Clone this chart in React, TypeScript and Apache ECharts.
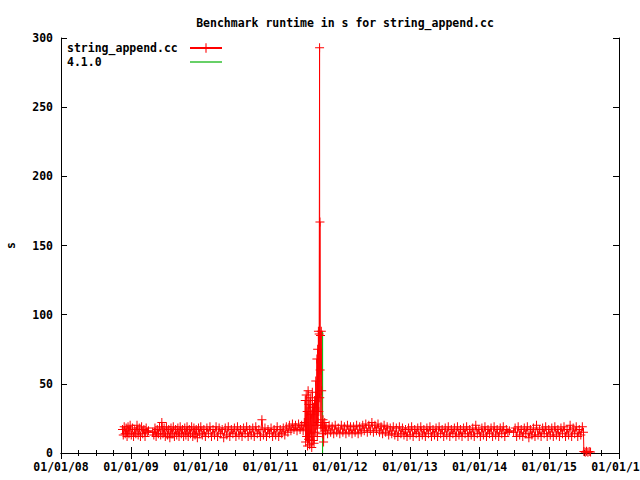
import React, { useEffect, useRef } from "react";
import * as echarts from "echarts";

const chartTitle = "Benchmark runtime in s for string_append.cc";
const seriesName = "string_append.cc";
const refName = "4.1.0";
const yTicks = { min: 0, max: 300, interval: 50 };
const xRange = ["2008-01-01", "2016-01-01"];

const runtimes: [string, number][] = [
  ["2008-11-18",17],["2008-11-22",13],["2008-11-27",19],["2008-12-02",14],["2008-12-07",18],["2008-12-12",12],["2008-12-17",19],["2008-12-22",14],["2008-12-28",20],
  ["2009-01-03",13],["2009-01-09",18],["2009-01-15",12],["2009-01-21",17],["2009-01-27",14],["2009-02-02",20],["2009-02-08",13],["2009-02-14",18],["2009-02-20",12],["2009-02-26",19],["2009-03-04",14],["2009-03-10",17],["2009-03-16",12],["2009-03-22",18],["2009-03-28",15],["2009-04-03",16],["2009-04-25",15],["2009-05-01",13],["2009-05-07",18],["2009-05-13",12],["2009-05-19",17],["2009-05-25",14],["2009-05-31",19],["2009-06-06",13],["2009-06-12",22],["2009-06-18",14],["2009-06-24",18],["2009-06-30",12],["2009-07-06",19],["2009-07-12",13],["2009-07-18",17],["2009-07-24",11],["2009-07-30",18],["2009-08-05",14],["2009-08-11",19],["2009-08-17",12],["2009-08-23",17],["2009-08-29",13],["2009-09-04",18],["2009-09-10",12],["2009-09-16",19],["2009-09-22",14],["2009-09-28",17],["2009-10-04",12],["2009-10-10",18],["2009-10-16",13],["2009-10-22",19],["2009-10-28",12],["2009-11-03",17],["2009-11-09",14],["2009-11-15",19],["2009-11-21",12],["2009-11-27",18],["2009-12-03",13],["2009-12-09",17],["2009-12-15",11],["2009-12-21",18],["2009-12-27",14],
  ["2010-01-02",19],["2010-01-10",13],["2010-01-18",17],["2010-01-26",12],["2010-02-03",18],["2010-02-11",14],["2010-02-19",19],["2010-02-27",12],["2010-03-07",17],["2010-03-15",13],["2010-03-23",19],["2010-03-31",12],["2010-04-08",18],["2010-04-16",14],["2010-04-24",17],["2010-05-02",11],["2010-05-10",18],["2010-05-18",13],["2010-05-26",19],["2010-06-03",12],["2010-06-11",17],["2010-06-19",14],["2010-06-27",18],["2010-07-05",12],["2010-07-13",19],["2010-07-21",13],["2010-07-29",17],["2010-08-06",12],["2010-08-14",18],["2010-08-22",14],["2010-08-30",19],["2010-09-07",12],["2010-09-15",17],["2010-09-23",13],["2010-10-01",18],["2010-10-09",12],["2010-10-17",19],["2010-10-25",14],["2010-11-02",17],["2010-11-10",12],["2010-11-18",24],["2010-11-26",13],["2010-12-04",18],["2010-12-12",12],["2010-12-20",17],["2010-12-28",14],
  ["2011-01-05",18],["2011-01-13",12],["2011-01-21",17],["2011-01-29",13],["2011-02-06",19],["2011-02-14",12],["2011-02-22",17],["2011-03-02",14],["2011-03-10",18],["2011-03-18",13],["2011-03-26",19],["2011-04-03",15],["2011-04-11",20],["2011-04-19",16],["2011-04-27",21],["2011-05-05",17],["2011-05-13",20],["2011-05-21",16],["2011-05-29",21],["2011-06-06",17],["2011-06-14",20],["2011-06-22",16],["2011-06-28",22],
  ["2011-07-01",20],["2011-07-03",38],["2011-07-05",8],["2011-07-08",42],["2011-07-10",12],["2011-07-13",30],["2011-07-15",5],["2011-07-18",45],["2011-07-20",10],["2011-07-23",35],["2011-07-26",6],["2011-07-29",40],["2011-08-01",14],["2011-08-03",28],["2011-08-06",4],["2011-08-09",44],["2011-08-12",9],["2011-08-15",33],["2011-08-18",7],["2011-08-21",38],["2011-08-24",15],["2011-08-27",52],["2011-08-30",20],["2011-09-02",68],["2011-09-04",12],["2011-09-06",75],["2011-09-08",22],["2011-09-10",88],["2011-09-12",30],["2011-09-14",86],["2011-09-16",293],["2011-09-17",40],["2011-09-18",167],["2011-09-19",60],["2011-09-21",85],["2011-09-23",18],["2011-09-25",88],["2011-09-27",45],["2011-09-29",20],["2011-10-01",14],["2011-10-04",24],["2011-10-07",8],["2011-10-10",18],["2011-10-13",22],["2011-10-17",16],
  ["2011-10-20",19],["2011-10-28",14],["2011-11-05",20],["2011-11-13",15],["2011-11-21",19],["2011-11-29",14],["2011-12-07",20],["2011-12-15",15],["2011-12-23",18],["2011-12-31",14],
  ["2012-01-08",20],["2012-01-16",15],["2012-01-24",19],["2012-02-01",14],["2012-02-09",20],["2012-02-17",15],["2012-02-25",19],["2012-03-04",14],["2012-03-12",19],["2012-03-20",15],["2012-03-28",20],["2012-04-05",14],["2012-04-13",19],["2012-04-21",15],["2012-04-29",20],["2012-05-07",16],["2012-05-15",21],["2012-05-23",15],["2012-05-31",20],["2012-06-08",16],["2012-06-16",22],["2012-06-24",15],["2012-07-02",20],["2012-07-10",16],["2012-07-18",21],["2012-07-26",15],["2012-08-03",19],["2012-08-11",14],["2012-08-19",20],["2012-08-27",15],["2012-09-04",19],["2012-09-12",13],["2012-09-20",18],["2012-09-28",14],["2012-10-06",19],["2012-10-14",13],["2012-10-22",18],["2012-10-30",12],["2012-11-07",19],["2012-11-15",14],["2012-11-23",18],["2012-12-01",13],["2012-12-09",17],["2012-12-17",12],["2012-12-25",18],
  ["2013-01-02",13],["2013-01-10",19],["2013-01-18",12],["2013-01-26",17],["2013-02-03",14],["2013-02-11",18],["2013-02-19",12],["2013-02-27",19],["2013-03-07",13],["2013-03-15",17],["2013-03-23",12],["2013-03-31",18],["2013-04-08",14],["2013-04-16",19],["2013-04-24",12],["2013-05-02",17],["2013-05-10",13],["2013-05-18",18],["2013-05-26",12],["2013-06-03",19],["2013-06-11",14],["2013-06-19",17],["2013-06-27",12],["2013-07-05",18],["2013-07-13",13],["2013-07-21",19],["2013-07-29",12],["2013-08-06",17],["2013-08-14",14],["2013-08-22",18],["2013-08-30",12],["2013-09-07",19],["2013-09-15",13],["2013-09-23",17],["2013-10-01",12],["2013-10-09",18],["2013-10-17",14],["2013-10-25",19],["2013-11-02",12],["2013-11-10",17],["2013-11-18",13],["2013-11-26",18],["2013-12-04",12],["2013-12-12",20],["2013-12-20",14],["2013-12-28",17],
  ["2014-01-05",12],["2014-01-13",18],["2014-01-21",13],["2014-01-29",19],["2014-02-06",12],["2014-02-14",17],["2014-02-22",14],["2014-03-02",18],["2014-03-10",12],["2014-03-18",19],["2014-03-26",13],["2014-04-03",17],["2014-04-11",12],["2014-04-19",18],["2014-04-27",14],["2014-05-05",19],["2014-05-13",12],["2014-05-21",17],["2014-05-29",15],["2014-06-06",16],["2014-06-28",15],["2014-07-06",18],["2014-07-14",12],["2014-07-22",19],["2014-07-30",13],["2014-08-07",17],["2014-08-15",12],["2014-08-23",18],["2014-08-31",14],["2014-09-08",19],["2014-09-16",11],["2014-09-24",17],["2014-10-02",13],["2014-10-10",18],["2014-10-18",12],["2014-10-26",20],["2014-11-03",13],["2014-11-11",17],["2014-11-19",12],["2014-11-27",18],["2014-12-05",14],["2014-12-13",19],["2014-12-21",12],["2014-12-29",17],
  ["2015-01-06",13],["2015-01-14",18],["2015-01-22",12],["2015-01-30",19],["2015-02-07",13],["2015-02-15",17],["2015-02-23",12],["2015-03-03",18],["2015-03-11",14],["2015-03-19",19],["2015-03-27",12],["2015-04-04",17],["2015-04-12",13],["2015-04-20",20],["2015-04-28",12],["2015-05-06",18],["2015-05-14",14],["2015-05-22",19],["2015-05-30",12],["2015-06-07",17],["2015-06-15",13],["2015-06-23",19],["2015-06-29",15],
  ["2015-07-01",1],["2015-07-08",0.5],["2015-07-15",1.2],["2015-07-22",0.6],["2015-07-29",1],["2015-08-05",0.8],
];

const refLine: [string, number][] = [["2011-10-02", 0], ["2011-10-02", 88]];

const FONT = "DejaVu Sans Mono";
const PLUS = "path://M4,0h1v4h4v1h-4v4h-1v-4h-4v-1h4z";
const LINE_ICON = "path://M0,0h32v1.2h-32z";

function toTime(s: string) {
  const [y, m, d] = s.split("-").map(Number);
  return new Date(y, m - 1, d).getTime();
}
function pad(n: number) {
  return n < 10 ? "0" + n : "" + n;
}

export default function App() {
  const ref = useRef<HTMLDivElement>(null);
  useEffect(() => {
    document.body.style.margin = "0";
    if (!ref.current) return;
    const chart = echarts.init(ref.current, undefined, { renderer: "svg" });
    const xMin = toTime(xRange[0]);
    const xMax = toTime(xRange[1]);
    const txt = { fontFamily: FONT, fontWeight: "bold" as const, fontSize: 11.5, color: "#000" };
    const yearMs = 365 * 24 * 3600 * 1000;
    const xBase = {
      type: "time" as const,
      min: xMin,
      max: xMax,
      splitNumber: 8,
      minInterval: yearMs,
      maxInterval: yearMs + 24 * 3600 * 1000,
      axisLine: { show: true, lineStyle: { color: "#000", width: 1 } },
      axisTick: { show: true, inside: true, length: 6, lineStyle: { color: "#000" } },
      minorTick: { show: true, splitNumber: 4, length: 3, lineStyle: { color: "#000" } },
      splitLine: { show: false },
      minorSplitLine: { show: false },
    };
    const yBase = {
      type: "value" as const,
      min: yTicks.min,
      max: yTicks.max,
      interval: yTicks.interval,
      axisLine: { show: true, lineStyle: { color: "#000", width: 1 } },
      axisTick: { show: true, inside: true, length: 6, lineStyle: { color: "#000" } },
      splitLine: { show: false },
    };
    chart.setOption({
      animation: false,
      backgroundColor: "#fff",
      title: {
        text: chartTitle,
        left: 340,
        top: 12,
        textAlign: "center",
        textStyle: { ...txt },
      },
      legend: {
        orient: "vertical",
        left: 67,
        top: 42,
        padding: 0,
        align: "right",
        itemGap: 2,
        itemWidth: 32,
        itemHeight: 12,
        formatter: (name: string) => "{t|" + name + "}",
        textStyle: {
          ...txt,
          rich: { t: { ...txt, width: 118, align: "left" } },
        },
        data: [{ name: seriesName }, { name: refName, icon: LINE_ICON }],
      },
      grid: { left: 61, right: 21, top: 38, bottom: 27, outerBoundsMode: "none", containLabel: false },
      xAxis: [
        {
          ...xBase,
          position: "bottom",
          axisLabel: {
            ...txt,
            margin: 8,
            showMinLabel: true,
            showMaxLabel: true,
            hideOverlap: false,
            formatter: (v: number) => {
              const d = new Date(v);
              return pad(d.getMonth() + 1) + "/" + pad(d.getDate()) + "/" + pad(d.getFullYear() % 100);
            },
          },
        },
        { ...xBase, position: "top", axisLabel: { show: false } },
      ],
      yAxis: [
        {
          ...yBase,
          position: "left",
          name: "s",
          nameLocation: "middle",
          nameGap: 44,
          nameRotate: 90,
          nameTextStyle: { ...txt },
          axisLabel: { ...txt, margin: 8 },
        },
        { ...yBase, position: "right", axisLabel: { show: false } },
      ],
      series: [
        {
          name: refName,
          type: "line",
          xAxisIndex: 0,
          yAxisIndex: 0,
          data: refLine.map(([d, v]) => [toTime(d), v]),
          symbol: "none",
          lineStyle: { color: "#00b000", width: 1 },
          itemStyle: { color: "#00b000" },
          z: 1,
        },
        {
          name: seriesName,
          type: "line",
          xAxisIndex: 0,
          yAxisIndex: 0,
          data: runtimes.map(([d, v]) => [toTime(d), v]),
          symbol: PLUS,
          symbolSize: 9,
          showSymbol: true,
          lineStyle: { color: "#ff0000", width: 1 },
          itemStyle: { color: "#ff0000" },
          z: 2,
        },
      ],
    });
    return () => chart.dispose();
  }, []);
  return <div ref={ref} style={{ width: 640, height: 480 }} />;
}
